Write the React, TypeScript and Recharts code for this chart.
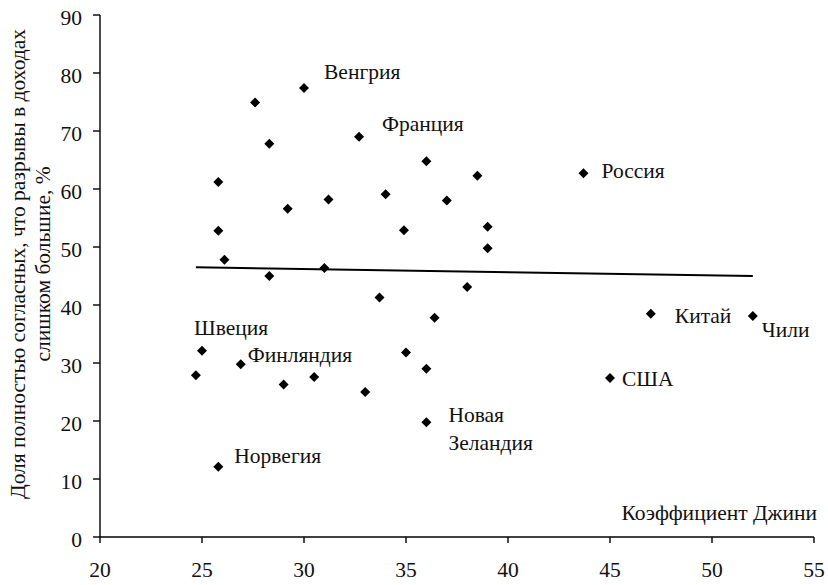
import React from 'react';
import { ScatterChart, Scatter, XAxis, YAxis, ReferenceLine } from 'recharts';

// Gini coefficient vs share who fully agree income gaps are too large
const gini = [
  27.6, 30.0, 28.3, 32.7, 25.8, 29.2, 31.2, 34.0, 25.8, 34.9, 26.1, 28.3, 31.0, 33.7,
  36.0, 38.5, 37.0, 39.0, 39.0, 38.0, 43.7,
  25.0, 24.7, 26.9, 29.0, 30.5, 33.0, 35.0, 25.8,
  36.4, 36.0, 36.0, 47.0, 52.0, 45.0,
];
const agree = [
  74.9, 77.4, 67.8, 69.0, 61.2, 56.6, 58.2, 59.1, 52.8, 52.9, 47.8, 45.0, 46.4, 41.3,
  64.8, 62.3, 58.0, 53.5, 49.8, 43.1, 62.7,
  32.1, 27.9, 29.8, 26.3, 27.6, 25.0, 31.8, 12.1,
  37.8, 29.0, 19.8, 38.5, 38.1, 27.4,
];
const countries = [
  '', 'Венгрия', '', 'Франция', '', '', '', '', '', '', '', '', '', '',
  '', '', '', '', '', '', 'Россия',
  'Швеция', '', 'Финляндия', '', '', '', '', 'Норвегия',
  '', '', 'Новая Зеландия', 'Китай', 'Чили', 'США',
];
const trendX = [24.7, 52.0];
const trendY = [46.5, 45.0];

const xTicks = [20, 25, 30, 35, 40, 45, 50, 55];
const yTicks = [0, 10, 20, 30, 40, 50, 60, 70, 80, 90];

const data = gini.map((x, i) => ({ x, y: agree[i], name: countries[i] }));

const FONT = "'Liberation Serif', 'Times New Roman', serif";
const FS = 21.5;
const INK = '#111';

// label offsets from the marker (px), text starts at dx, lines centred at dy
const labelPos: Record<string, { dx: number; dy: number[] }> = {
  'Венгрия': { dx: 20, dy: [-16] },
  'Франция': { dx: 23, dy: [-13] },
  'Россия': { dx: 18, dy: [-2] },
  'Швеция': { dx: -8, dy: [-23] },
  'Финляндия': { dx: 7, dy: [-9] },
  'Норвегия': { dx: 16, dy: [-11] },
  'Китай': { dx: 24, dy: [2] },
  'Чили': { dx: 9, dy: [14] },
  'США': { dx: 12, dy: [1] },
  'Новая Зеландия': { dx: 22, dy: [-7, 21] },
};

const Diamond = (props: any) => {
  const { cx, cy, payload } = props;
  const r = 5;
  const pos = payload && labelPos[payload.name];
  const lines = payload && payload.name ? payload.name.split(' ') : [];
  return (
    <g>
      <polygon points={`${cx},${cy - r} ${cx + r},${cy} ${cx},${cy + r} ${cx - r},${cy}`} fill="#000" />
      {pos && lines.map((t: string, i: number) => (
        <text key={t} x={cx + pos.dx} y={cy + pos.dy[i]} dominantBaseline="central"
          fontFamily={FONT} fontSize={FS} fill={INK}>{t}</text>
      ))}
    </g>
  );
};

const YTick = (props: any) => {
  const { x, y, payload } = props;
  return (
    <text x={x} y={y + 3} textAnchor="end" dominantBaseline="central" fontFamily={FONT} fontSize={FS} fill={INK}>
      {payload.value}
    </text>
  );
};

const XTick = (props: any) => {
  const { x, y, payload } = props;
  return (
    <text x={x} y={y + 34} textAnchor="middle" fontFamily={FONT} fontSize={FS} fill={INK}>
      {payload.value}
    </text>
  );
};

const YLabel = (props: any) => {
  const { viewBox } = props;
  const cy = viewBox.y + viewBox.height / 2 - 12;
  return (
    <g fontFamily={FONT} fontSize={FS} fill={INK}>
      <text x={25} y={cy} textAnchor="middle" transform={`rotate(-90, 25, ${cy})`}>
        Доля полностью согласных, что разрывы в доходах
      </text>
      <text x={50} y={cy} textAnchor="middle" transform={`rotate(-90, 50, ${cy})`}>
        слишком большие, %
      </text>
    </g>
  );
};

const XLabel = (props: any) => {
  const { viewBox } = props;
  return (
    <text x={viewBox.x + viewBox.width + 3} y={viewBox.y - 24} textAnchor="end" dominantBaseline="central"
      fontFamily={FONT} fontSize={FS} fill={INK}>
      Коэффициент Джини
    </text>
  );
};

export default function App() {
  return (
    <div style={{ position: 'absolute', left: 0, top: 0, background: '#fff' }}>
      <ScatterChart width={828} height={585} margin={{ top: 15, right: 14, bottom: 0, left: 0 }}>
        <XAxis type="number" dataKey="x" domain={[20, 55]} ticks={xTicks} interval={0}
          height={48} tickSize={6} tickMargin={0} tick={<XTick />}
          axisLine={{ stroke: '#000', strokeWidth: 1.4 }} tickLine={{ stroke: '#000', strokeWidth: 1.4 }}
          label={<XLabel />} />
        <YAxis type="number" dataKey="y" domain={[0, 90]} ticks={yTicks} interval={0}
          width={100} tickSize={7} tickMargin={11} tick={<YTick />}
          axisLine={{ stroke: '#000', strokeWidth: 1.4 }} tickLine={{ stroke: '#000', strokeWidth: 1.4 }}
          label={<YLabel />} />
        <ReferenceLine segment={[{ x: trendX[0], y: trendY[0] }, { x: trendX[1], y: trendY[1] }]}
          stroke="#000" strokeWidth={2} />
        <Scatter data={data} shape={<Diamond />} isAnimationActive={false} />
      </ScatterChart>
    </div>
  );
}
